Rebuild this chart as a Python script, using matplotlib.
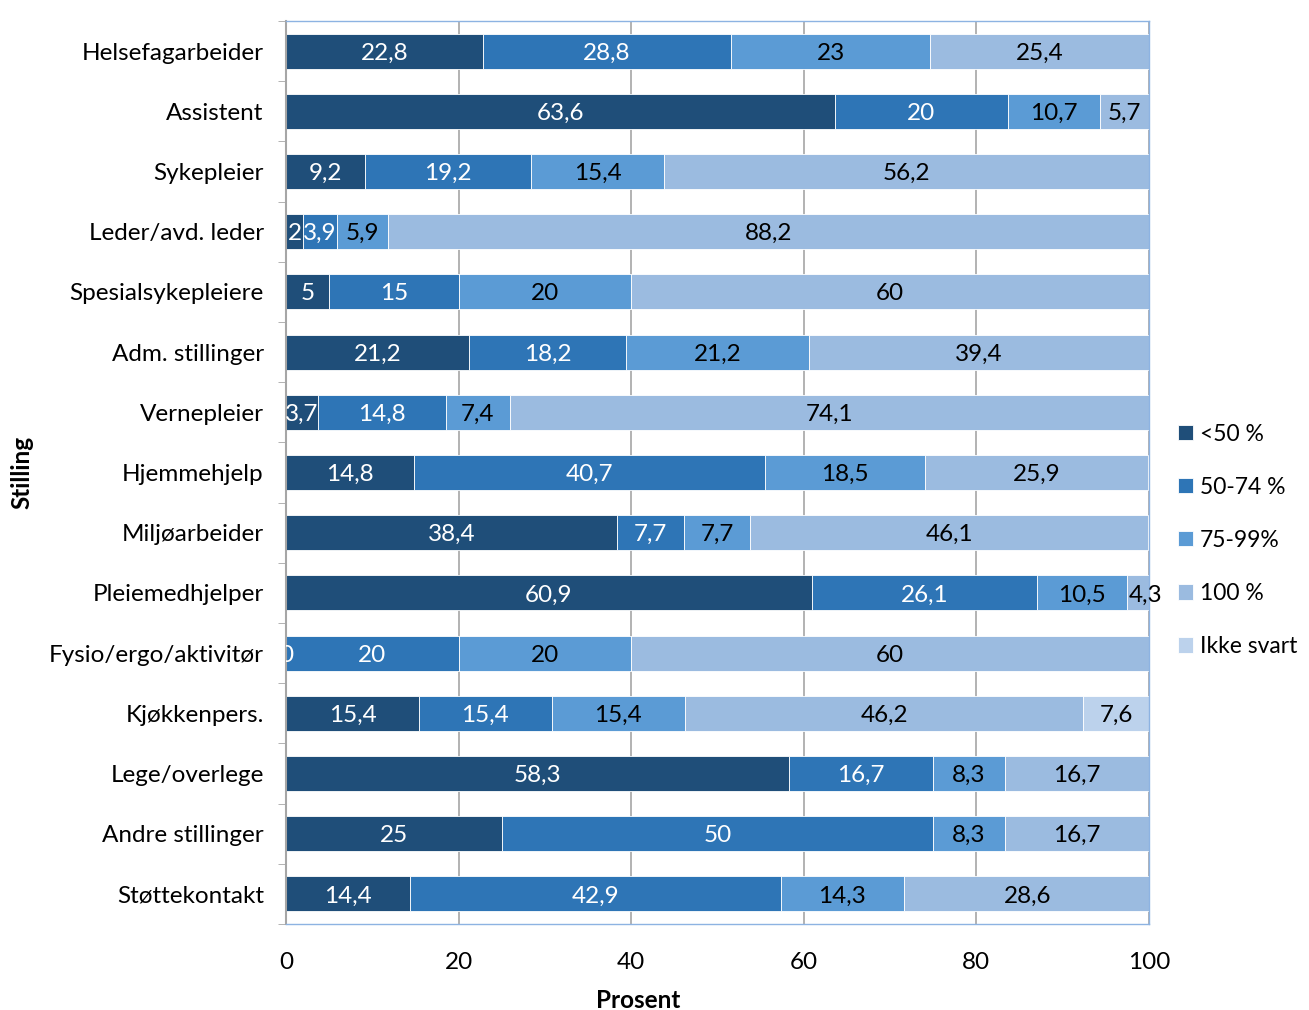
import matplotlib.pyplot as plt
import numpy as np

plt.rcParams['font.family'] = ['Lato', 'DejaVu Sans']

# job categories, top to bottom
stillinger = ["Helsefagarbeider", "Assistent", "Sykepleier", "Leder/avd. leder",
              "Spesialsykepleiere", "Adm. stillinger", "Vernepleier", "Hjemmehjelp",
              "Miljøarbeider", "Pleiemedhjelper", "Fysio/ergo/aktivitør", "Kjøkkenpers.",
              "Lege/overlege", "Andre stillinger", "Støttekontakt"]

# share (%) per position size, None = no label / no bar
under50 = [22.8, 63.6, 9.2, 2, 5, 21.2, 3.7, 14.8, 38.4, 60.9, 0, 15.4, 58.3, 25, 14.4]
p50_74 = [28.8, 20, 19.2, 3.9, 15, 18.2, 14.8, 40.7, 7.7, 26.1, 20, 15.4, 16.7, 50, 42.9]
p75_99 = [23, 10.7, 15.4, 5.9, 20, 21.2, 7.4, 18.5, 7.7, 10.5, 20, 15.4, 8.3, 8.3, 14.3]
p100 = [25.4, 5.7, 56.2, 88.2, 60, 39.4, 74.1, 25.9, 46.1, 4.3, 60, 46.2, 16.7, 16.7, 28.6]
ikke_svart = [None, None, None, None, None, None, None, None, None, None, None, 7.6, None, None, None]

serier = [under50, p50_74, p75_99, p100, ikke_svart]
navn = ["<50 %", "50-74 %", "75-99%", "100 %", "Ikke svart"]
farger = ["#1F4E79", "#2E75B6", "#5B9BD5", "#9BBBE0", "#BCD2EC"]
tekstfarge = ["white", "white", "black", "black", "black"]

FS = 17.5

fig = plt.figure(figsize=(13.09, 10.10), dpi=100)
ax = fig.add_axes([0.2185, 0.0851, 0.6593, 0.8941])

y = np.arange(len(stillinger))
venstre = np.zeros(len(stillinger))
handles = []
for i, serie in enumerate(serier):
    verdier = np.array([v if v is not None else 0 for v in serie], dtype=float)
    b = ax.barh(y, verdier, left=venstre, height=0.58, color=farger[i],
                edgecolor="white", linewidth=0.6, zorder=2)
    handles.append(b)
    for j, v in enumerate(serie):
        if v is None:
            continue
        txt = ("%g" % v).replace(".", ",")
        ax.text(venstre[j] + verdier[j] / 2, y[j], txt, ha="center", va="center_baseline",
                color=tekstfarge[i], fontsize=FS, zorder=3, clip_on=(i == 0))
    venstre += verdier

ax.set_xlim(0, 100)
ax.set_ylim(len(stillinger) - 0.5, -0.5)
ax.set_xticks([0, 20, 40, 60, 80, 100])
ax.set_yticks(y)
ax.set_yticklabels(stillinger, fontsize=FS)
ax.tick_params(axis="x", labelsize=FS, length=0, pad=20)
ax.tick_params(axis="y", length=0, pad=16)
# small category separator ticks on the left axis
ax.set_yticks(np.arange(-0.5, len(stillinger)), minor=True)
ax.tick_params(axis="y", which="minor", length=6, color="#A6A6A6", direction="out")

ax.grid(axis="x", color="#A6A6A6", linewidth=1.2, zorder=0)
ax.set_axisbelow(True)
for side in ["top", "right", "bottom"]:
    ax.spines[side].set_color("#8DB3E2")
    ax.spines[side].set_linewidth(1.0)
ax.spines["left"].set_color("#A6A6A6")
ax.spines["left"].set_linewidth(1.5)

fig.text(638 / 1309, 1 - 1000 / 1010, "Prosent", fontsize=FS, fontweight="bold",
         ha="center", va="center")
fig.text(22 / 1309, 1 - 472 / 1010, "Stilling", fontsize=FS, fontweight="bold",
         ha="center", va="center", rotation=90)

fig.legend(handles, navn, loc="center left", bbox_to_anchor=(0.893, 0.465),
           frameon=False, fontsize=16.5, handlelength=0.65, handleheight=0.65,
           handletextpad=0.3, labelspacing=1.4, borderaxespad=0)

fig.savefig("out.png", dpi=100)
